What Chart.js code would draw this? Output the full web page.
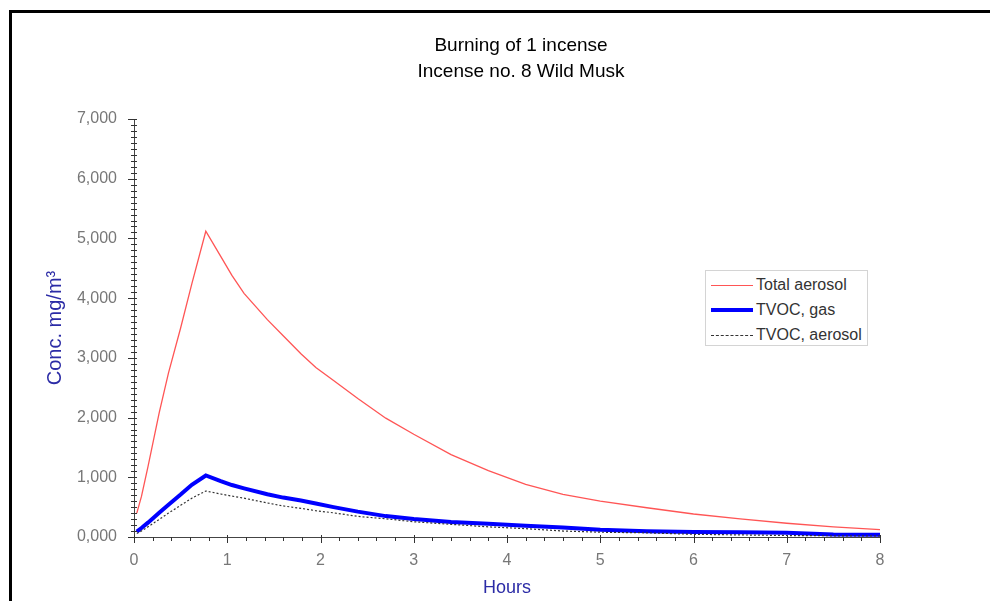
<!DOCTYPE html>
<html>
<head>
<meta charset="utf-8">
<script src="https://cdn.jsdelivr.net/npm/chart.js@4"></script>
<style>
  html, body { margin: 0; padding: 0; background: #fff; }
  #wrap { position: relative; width: 990px; height: 601px; overflow: hidden; }
  #frame { position: absolute; left: 9px; top: 10px; width: 1100px; height: 700px;
           border: 3px solid #000; pointer-events: none; }
  #legend { position: absolute; left: 705px; top: 270px; width: 161px; height: 74px;
            border: 1px solid #d4d4d4; background: #fff;
            font: 16px "Liberation Sans", Arial, sans-serif; color: #333; }
  .row { position: absolute; left: 5px; height: 20px; display: flex; align-items: center;
         white-space: nowrap; }
  .swatch { width: 42px; margin-right: 3px; }
</style>
</head>
<body>
<div id="wrap">
  <canvas id="chart" width="990" height="601"></canvas>
  <div id="legend"></div>
  <div id="frame"></div>
</div>
<script>
const titleLines = ["Burning of 1 incense", "Incense no. 8 Wild Musk"];

const hours = [0.03, 0.08, 0.15, 0.27, 0.37, 0.5, 0.62, 0.77, 0.93, 1.05, 1.18, 1.43, 1.6, 1.79, 1.95,
  2.14, 2.4, 2.7, 3.0, 3.4, 3.8, 4.2, 4.6, 5.0, 5.5, 6.0, 6.5, 7.0, 7.5, 8.0];

const totalAerosol = [400, 680, 1180, 2080, 2750, 3500, 4240, 5120, 4700, 4380, 4080, 3640, 3370, 3070, 2840,
  2620, 2320, 1990, 1720, 1380, 1110, 880, 715, 600, 490, 385, 305, 230, 170, 125];

const tvocGas = [90, 150, 240, 405, 540, 710, 875, 1030, 935, 870, 815, 715, 660, 610, 560,
  500, 425, 350, 300, 252, 220, 190, 160, 122, 97, 85, 80, 72, 42, 38];

const tvocAerosol = [60, 100, 170, 295, 400, 530, 650, 770, 720, 685, 650, 570, 520, 480, 440,
  405, 345, 305, 255, 212, 170, 140, 100, 80, 70, 45, 35, 25, 20, 18];

const seriesNames = ["Total aerosol", "TVOC, gas", "TVOC, aerosol"];
const yTicks = [0, 1000, 2000, 3000, 4000, 5000, 6000, 7000];
const xTicks = [0, 1, 2, 3, 4, 5, 6, 7, 8];

const FONT = '"Liberation Sans", Arial, sans-serif';
const AXIS_BLUE = "#2b2ba6";

function points(values) {
  return hours.map((h, i) => ({ x: h, y: values[i] }));
}

// minor and crossing tick marks, placed through the chart's own scales
const tickMarks = {
  id: "tickMarks",
  afterDraw(chart) {
    const { ctx, scales: { x, y }, chartArea } = chart;
    ctx.save();
    ctx.strokeStyle = "#333";
    ctx.lineWidth = 1;
    ctx.beginPath();
    for (let v = 0; v <= 7000; v += 100) {
      const py = Math.round(y.getPixelForValue(v)) + 0.5;
      const major = v % 1000 === 0;
      ctx.moveTo(chartArea.left - (major ? 6 : 3), py);
      ctx.lineTo(chartArea.left + 3, py);
    }
    for (let i = 0; i <= 40; i++) {
      const px = Math.round(x.getPixelForValue(i / 5)) + 0.5;
      const major = i % 5 === 0;
      ctx.moveTo(px, chartArea.bottom - (major ? 2 : 0));
      ctx.lineTo(px, chartArea.bottom + (major ? 6 : 4));
    }
    ctx.stroke();
    ctx.restore();
  }
};

const chart = new Chart(document.getElementById("chart"), {
  type: "line",
  data: {
    datasets: [
      {
        label: seriesNames[0],
        data: points(totalAerosol),
        borderColor: "#ff5555",
        borderWidth: 1.3,
        pointRadius: 0,
        tension: 0,
        order: 2
      },
      {
        label: seriesNames[1],
        data: points(tvocGas),
        borderColor: "#0000ff",
        borderWidth: 4,
        pointRadius: 0,
        tension: 0,
        order: 1
      },
      {
        label: seriesNames[2],
        data: points(tvocAerosol),
        borderColor: "#333",
        borderWidth: 1.2,
        borderDash: [2, 2],
        pointRadius: 0,
        tension: 0,
        order: 0
      }
    ]
  },
  options: {
    responsive: false,
    animation: false,
    layout: { padding: { left: 52, right: 0, top: 0, bottom: 0 } },
    plugins: {
      legend: { display: false },
      tooltip: { enabled: false },
      title: {
        display: true,
        text: titleLines,
        color: "#000",
        font: { family: FONT, size: 19, weight: "normal", lineHeight: "26px" },
        padding: { top: 33, bottom: 34 }
      }
    },
    scales: {
      x: {
        type: "linear",
        min: 0,
        max: 8,
        afterFit(scale) { scale.height = 64; },
        afterBuildTicks(scale) { scale.ticks = xTicks.map(v => ({ value: v })); },
        grid: { display: true, drawOnChartArea: false, drawTicks: false },
        border: { color: "#444", width: 1 },
        ticks: { color: "#777", padding: 14, font: { family: FONT, size: 16 } },
        title: {
          display: true,
          text: "Hours",
          color: AXIS_BLUE,
          padding: 2,
          font: { family: FONT, size: 18 }
        }
      },
      y: {
        min: 0,
        max: 7000,
        afterFit(scale) { scale.width = 82; },
        afterBuildTicks(scale) { scale.ticks = yTicks.map(v => ({ value: v })); },
        grid: { display: true, drawOnChartArea: false, drawTicks: false },
        border: { color: "#444", width: 1 },
        ticks: {
          color: "#777",
          padding: 17,
          font: { family: FONT, size: 16 },
          callback: v => (v / 1000) + ",000"
        },
        title: {
          display: true,
          text: "Conc. mg/m³",
          color: AXIS_BLUE,
          padding: 0,
          font: { family: FONT, size: 20, lineHeight: "6px" }
        }
      },
      // empty right-hand space between the plot and the frame edge
      gap: {
        position: "right",
        afterFit(scale) { scale.width = 110; },
        grid: { display: false },
        border: { display: false },
        ticks: { display: false }
      }
    }
  },
  plugins: [tickMarks]
});

// html legend built from the chart's datasets
const legend = document.getElementById("legend");
chart.data.datasets.forEach((ds, i) => {
  const row = document.createElement("div");
  row.className = "row";
  row.style.top = (4 + i * 25) + "px";
  const sw = document.createElement("span");
  sw.className = "swatch";
  if (ds.borderDash) {
    sw.style.borderTop = "1px dashed " + ds.borderColor;
  } else {
    sw.style.height = Math.max(1, Math.round(ds.borderWidth)) + "px";
    sw.style.background = ds.borderColor;
  }
  const txt = document.createElement("span");
  txt.textContent = ds.label;
  row.appendChild(sw);
  row.appendChild(txt);
  legend.appendChild(row);
});
</script>
</body>
</html>
